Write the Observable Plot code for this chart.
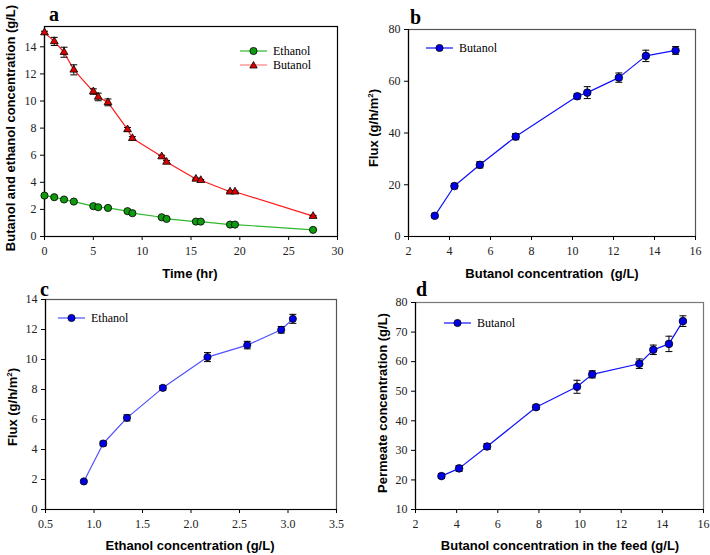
<!DOCTYPE html>
<html>
<head>
<meta charset="utf-8">
<script src="https://cdn.jsdelivr.net/npm/d3@7"></script>
<script src="https://cdn.jsdelivr.net/npm/@observablehq/plot@0.6"></script>
<style>
  html, body { margin: 0; padding: 0; background: #fff; }
  #root { position: relative; width: 710px; height: 555px; background: #fff; overflow: hidden; }
  .panel { position: absolute; }
  .panel svg { display: block; }
  .panel svg text { font-family: "Liberation Serif", "Times New Roman", serif; font-size: 12px; }
  .letter { position: absolute; font-family: "Liberation Serif", serif; font-weight: bold; font-size: 20px; line-height: 1; color: #000; }
  .xlab, .ylab { position: absolute; font-family: "Liberation Sans", Arial, sans-serif; font-weight: bold; font-size: 13px; color: #000; white-space: nowrap; line-height: 1; }
  .xlab { transform: translate(-50%, -50%); }
  .ylab { transform: translate(-50%, -50%) rotate(-90deg); }
  .legend { position: absolute; font-family: "Liberation Serif", serif; font-size: 12px; color: #000; }
  .legend .row { display: flex; align-items: center; height: 14px; }
  .legend svg { margin-right: 6px; }
</style>
</head>
<body>
<div id="root"></div>
<script>
// ---------- Data ----------
// Panel a: concentration vs time
const timeA       = [0, 1, 2, 3, 5, 5.5, 6.5, 8.5, 9, 12, 12.5, 15.5, 16, 19, 19.5, 27.5];
const butanolA    = [15.05, 14.4, 13.6, 12.3, 10.7, 10.3, 9.9, 7.9, 7.25, 5.9, 5.5, 4.25, 4.15, 3.3, 3.3, 1.5];
const butanolErrA = [0.1, 0.3, 0.37, 0.37, 0.2, 0.28, 0.25, 0.15, 0.12, 0.1, 0.1, 0.06, 0.06, 0.06, 0.06, 0.06];
const ethanolA    = [3.02, 2.9, 2.73, 2.58, 2.24, 2.16, 2.11, 1.87, 1.72, 1.42, 1.3, 1.1, 1.1, 0.88, 0.88, 0.49];
const ethanolErrA = [0.08, 0.08, 0.08, 0.08, 0.08, 0.08, 0.08, 0.08, 0.08, 0.06, 0.06, 0.06, 0.06, 0.05, 0.05, 0.05];

// Panel b: butanol flux vs butanol concentration
const concB    = [3.28, 4.24, 5.48, 7.23, 10.23, 10.72, 12.26, 13.58, 15.03];
const fluxB    = [8.0, 19.5, 27.7, 38.6, 54.2, 55.6, 61.4, 69.8, 71.9];
const fluxErrB = [0.7, 1.0, 1.2, 1.2, 1.0, 2.3, 1.8, 2.2, 1.5];

// Panel c: ethanol flux vs ethanol concentration
const concC    = [0.895, 1.095, 1.34, 1.71, 2.17, 2.58, 2.93, 3.05];
const fluxC    = [1.87, 4.4, 6.11, 8.11, 10.16, 10.96, 11.98, 12.71];
const fluxErrC = [0.08, 0.15, 0.2, 0.15, 0.3, 0.25, 0.22, 0.3];

// Panel d: permeate concentration vs feed concentration
const concD    = [3.26, 4.12, 5.48, 7.86, 9.85, 10.59, 12.88, 13.56, 14.32, 15.0];
const permD    = [21.3, 23.9, 31.3, 44.6, 51.5, 55.7, 59.3, 64.0, 66.0, 73.7];
const permErrD = [0.8, 1.0, 1.0, 0.8, 2.2, 1.2, 1.6, 1.6, 2.6, 1.8];

// ---------- Helpers ----------
const rows = (xs, ys, es) => xs.map((x, i) => ({x, y: ys[i], e: es[i]}));
const capSymbol = {draw(ctx, size) { const r = Math.sqrt(size / Math.PI); ctx.moveTo(-r, 0); ctx.lineTo(r, 0); }};
const serif = "Liberation Serif, Times New Roman, serif";

function seriesMarks(data, lineColor, fill, symbol, r) {
  return [
    Plot.line(data, {x: "x", y: "y", stroke: lineColor, strokeWidth: 1.2}),
    Plot.ruleX(data, {x: "x", y1: d => d.y - d.e, y2: d => d.y + d.e, stroke: "#000", strokeWidth: 1}),
    Plot.dot(data, {x: "x", y: d => d.y + d.e, symbol: capSymbol, r: 3.5, stroke: "#000", strokeWidth: 1}),
    Plot.dot(data, {x: "x", y: d => d.y - d.e, symbol: capSymbol, r: 3.5, stroke: "#000", strokeWidth: 1}),
    Plot.dot(data, {x: "x", y: "y", symbol, r, fill, stroke: "#000", strokeWidth: 0.8})
  ];
}

function makePlot(cfg) {
  const [x0] = cfg.xDomain, [y0] = cfg.yDomain;
  return Plot.plot({
    width: cfg.width, height: cfg.height,
    marginLeft: cfg.ml, marginRight: cfg.mr, marginTop: cfg.mt, marginBottom: cfg.mb,
    style: {background: "transparent", overflow: "visible", fontFamily: serif, fontSize: "12px"},
    x: {domain: cfg.xDomain},
    y: {domain: cfg.yDomain},
    marks: [
      Plot.frame({stroke: cfg.frameColor, strokeWidth: 1.2}),
      Plot.ruleX([x0], {stroke: "#000", strokeWidth: 1.2}),
      Plot.ruleY([y0], {stroke: "#000", strokeWidth: 1.2}),
      Plot.axisX({ticks: cfg.xTicks, tickFormat: cfg.xFormat, tickSize: 4, tickPadding: 6, label: null, fill: "#222"}),
      Plot.axisY({ticks: cfg.yTicks, tickFormat: cfg.yFormat, tickSize: 4, tickPadding: 4, label: null, fill: "#222"}),
      ...cfg.marks
    ]
  });
}

const root = document.getElementById("root");
function place(el, left, top) {
  const d = document.createElement("div");
  d.className = "panel"; d.style.left = left + "px"; d.style.top = top + "px";
  d.appendChild(el); root.appendChild(d);
}
function text(cls, html, left, top) {
  const d = document.createElement("div");
  d.className = cls; d.innerHTML = html;
  d.style.left = left + "px"; d.style.top = top + "px";
  root.appendChild(d);
}
function legend(left, top, items) {
  const d = document.createElement("div");
  d.className = "legend"; d.style.left = left + "px"; d.style.top = top + "px";
  for (const it of items) {
    const row = document.createElement("div"); row.className = "row";
    const sym = it.shape === "triangle"
      ? `<polygon points="13.5,3.5 17.2,10 9.8,10" fill="${it.fill}" stroke="#000" stroke-width="0.8"/>`
      : `<circle cx="13.5" cy="7" r="3.6" fill="${it.fill}" stroke="#000" stroke-width="0.8"/>`;
    row.innerHTML = `<svg width="27" height="14"><line x1="0" y1="7" x2="27" y2="7" stroke="${it.line}" stroke-width="1.2"/>${sym}</svg><span>${it.label}</span>`;
    d.appendChild(row);
  }
  root.appendChild(d);
}

// ---------- Panel a ----------
place(makePlot({
  width: 355, height: 280, ml: 44, mr: 18, mt: 26, mb: 44, frameColor: "#000",
  xDomain: [0, 30], yDomain: [0, 15.5],
  xTicks: d3.range(0, 31, 5), yTicks: d3.range(0, 15, 2),
  xFormat: d => d, yFormat: d => d,
  marks: [
    ...seriesMarks(rows(timeA, ethanolA, ethanolErrA), "#2eb82e", "#109a10", "circle", 3.6),
    ...seriesMarks(rows(timeA, butanolA, butanolErrA), "#ff1a1a", "#e00000", "triangle", 2.9)
  ]
}), 0, 0);

// ---------- Panel b ----------
place(makePlot({
  width: 355, height: 280, ml: 53, mr: 15, mt: 29, mb: 44, frameColor: "#555",
  xDomain: [2, 16], yDomain: [0, 80],
  xTicks: d3.range(2, 17, 2), yTicks: d3.range(0, 81, 20),
  xFormat: d => d, yFormat: d => d,
  marks: seriesMarks(rows(concB, fluxB, fluxErrB), "#1010ff", "#0000e6", "circle", 3.8)
}), 355, 0);

// ---------- Panel c ----------
place(makePlot({
  width: 355, height: 275, ml: 45, mr: 19, mt: 19, mb: 46, frameColor: "#555",
  xDomain: [0.5, 3.5], yDomain: [0, 14],
  xTicks: d3.range(0.5, 3.51, 0.5), yTicks: d3.range(0, 15, 2),
  xFormat: d => d.toFixed(1), yFormat: d => d,
  marks: seriesMarks(rows(concC, fluxC, fluxErrC), "#5050ff", "#0000e6", "circle", 3.6)
}), 0, 280);

// ---------- Panel d ----------
place(makePlot({
  width: 355, height: 275, ml: 60, mr: 7, mt: 22, mb: 46, frameColor: "#777",
  xDomain: [2, 16], yDomain: [10, 80],
  xTicks: d3.range(2, 17, 2), yTicks: d3.range(10, 81, 10),
  xFormat: d => d, yFormat: d => d,
  marks: seriesMarks(rows(concD, permD, permErrD), "#1010ff", "#0000e6", "circle", 3.8)
}), 355, 280);

// ---------- Text ----------
text("letter", "a", 49, 4);
text("letter", "b", 410, 7);
text("letter", "c", 40, 279);
text("letter", "d", 416, 279);

text("xlab", "Time (hr)", 190, 273);
text("ylab", "Butanol and ethanol concentration (g/L)", 10, 128);
text("xlab", "Butanol concentration&nbsp;&nbsp;(g/L)", 552, 273);
text("ylab", "Flux (g/h/m<sup style='font-size:8px;vertical-align:5px'>2</sup>)", 373, 128);
text("xlab", "Ethanol concentration (g/L)", 190, 545);
text("ylab", "Flux (g/h/m<sup style='font-size:8px;vertical-align:5px'>2</sup>)", 12, 407);
text("xlab", "Butanol concentration in the feed (g/L)", 560, 545);
text("ylab", "Permeate concentration (g/L)", 382, 403);

legend(240, 44, [
  {label: "Ethanol", line: "#2eb82e", fill: "#109a10", shape: "circle"},
  {label: "Butanol", line: "#ff8080", fill: "#e00000", shape: "triangle"}
]);
legend(426, 41, [{label: "Butanol", line: "#1010ff", fill: "#0000e6", shape: "circle"}]);
legend(58, 311, [{label: "Ethanol", line: "#5050ff", fill: "#0000e6", shape: "circle"}]);
legend(444, 316, [{label: "Butanol", line: "#1010ff", fill: "#0000e6", shape: "circle"}]);
</script>
</body>
</html>
